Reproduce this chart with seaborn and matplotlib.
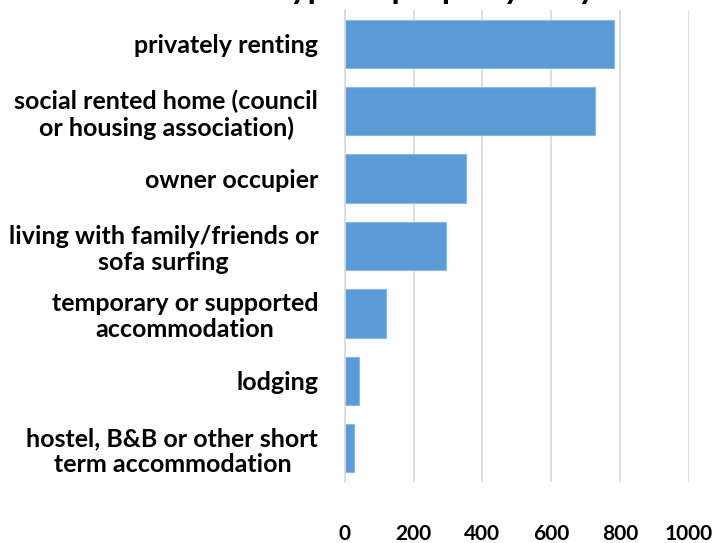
import matplotlib
matplotlib.use("Agg")
import matplotlib.pyplot as plt
import seaborn as sns
import pandas as pd

categories = [
    "privately renting",
    "social rented home (council\nor housing association)",
    "owner occupier",
    "living with family/friends or\nsofa surfing",
    "temporary or supported\naccommodation",
    "lodging",
    "hostel, B&B or other short\nterm accommodation",
]
values = [782, 728, 353, 295, 119, 41, 26]
xticks = [0, 200, 400, 600, 800, 1000]
title = "Type of property they live in"

sns.set_theme(style="white")
plt.rcParams["font.family"] = ["Lato", "DejaVu Sans"]

df = pd.DataFrame({"category": categories, "value": values})

fig = plt.figure(figsize=(7.15, 5.43), dpi=100)
ax = fig.add_axes([344.7 / 715, 1 - 482 / 543, (689 - 344.7) / 715, (482 - 10) / 543])

sns.barplot(data=df, x="value", y="category", orient="h", color="#5B9BD5",
            width=0.714, edgecolor="#8DB8E3", linewidth=0.8, saturation=1, ax=ax)

ax.set_xlim(0, 1000)
ax.set_xticks(xticks)
ax.set_xticklabels([str(t) for t in xticks], fontsize=15, fontweight="bold", color="black")
ax.xaxis.grid(True, color="#D9D9D9", linewidth=1.2)
ax.set_axisbelow(True)
for s in ["top", "right", "bottom"]:
    ax.spines[s].set_visible(False)
ax.spines["left"].set_color("#D9D9D9")
ax.spines["left"].set_linewidth(1.2)
ax.tick_params(axis="x", length=0, pad=30)
ax.tick_params(axis="y", length=0, pad=19)
ax.set_xlabel("")
ax.set_ylabel("")
for lab in ax.get_yticklabels():
    lab.set_fontsize(18)
    lab.set_fontweight("bold")
    lab.set_color("black")
    lab.set_multialignment("center")
    lab.set_linespacing(1.15)

fig.text(270 / 715, 1 + 1 / 543, title, ha="left", va="baseline",
         fontsize=24, fontweight="bold", color="black")

fig.savefig("out.png", dpi=100)
